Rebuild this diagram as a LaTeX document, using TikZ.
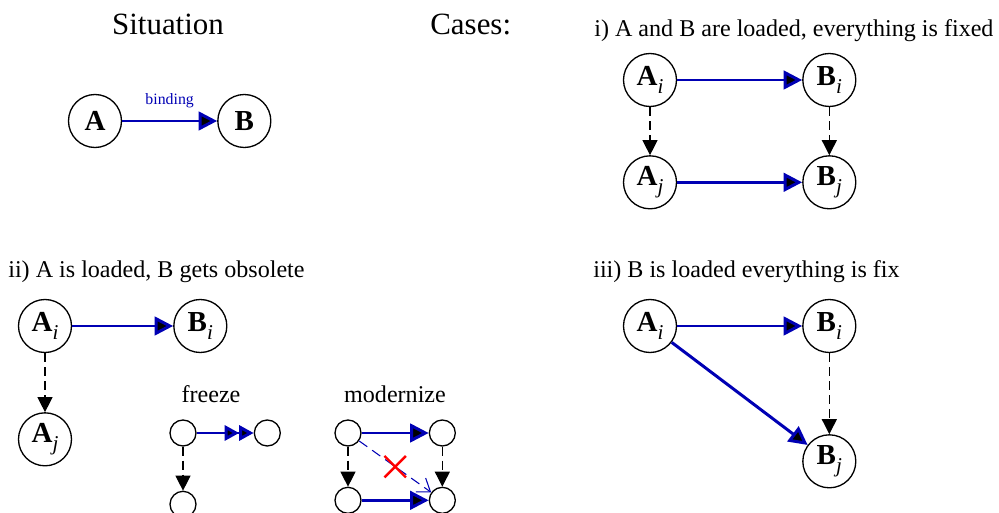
\documentclass[tikz,border=0pt]{standalone}
\usepackage{fontspec}
\setmainfont{Liberation Serif}
\usetikzlibrary{arrows.meta}
\usetikzlibrary{shapes.misc}
\usetikzlibrary{positioning}
\definecolor{bindblue}{RGB}{0,0,180}
\tikzset{main node/.style={circle,fill=white,draw,line width=0.75pt,minimum size=1.06cm,inner sep=0pt,font=\fontsize{16.5}{19}\selectfont\bfseries}}
\tikzset{small node/.style={circle,fill=white,draw,line width=0.75pt,minimum size=0.52cm,inner sep=0pt}}
\tikzset{bind/.style={draw=bindblue,line width=1.7pt,-{Triangle[length=0.37cm,width=0.37cm]}}}
\tikzset{dep/.style={draw=black,line width=0.7pt,dash pattern=on 0.18cm off 0.1cm,-{Triangle[length=0.3cm,width=0.3cm]}}}
\tikzset{head text/.style={font=\fontsize{17.6}{20}\selectfont,inner sep=0pt}}
\tikzset{case text/.style={font=\fontsize{13.7}{16}\selectfont,inner sep=0pt,anchor=base west}}
\newcommand{\nodeidx}[1]{\raisebox{-0.3em}{\fontsize{12}{14}\selectfont\mdseries\itshape #1}}

\begin{document}
\begin{tikzpicture}
	\useasboundingbox (0,0) rectangle (19.98,-10.26);
	% headings
	\node[head text,anchor=base] (situation) at (3.36,-0.70) {Situation};
	\node[head text,anchor=base west] (cases) at (8.60,-0.70) {Cases:};
	\node[case text] (case_{1}) at (11.88,-0.74) {i) A and B are loaded, everything is fixed};
	\node[case text] (case_{2}) at (0.16,-5.56) {ii) A is loaded, B gets obsolete};
	\node[case text] (case_{3}) at (11.86,-5.56) {iii) B is loaded everything is fix};
	\node[case text,anchor=base] (freeze) at (4.22,-8.06) {freeze};
	\node[case text,anchor=base] (modern) at (7.90,-8.06) {modernize};

	% situation
	\node[main node] (a) at (1.90,-2.42) {A};
	\node[main node] (b) [right = 1.90cm of a] {B};
	\path[bind]
	(a) edge node[midway,above=3pt,font=\fontsize{9}{10}\selectfont,text=bindblue] {binding} (b);

	% case i
	\node[main node] (a_{1}) at (13.00,-1.60) {A\nodeidx{i}};
	\node[main node] (b_{1}) [right = 2.50cm of a_{1}] {B\nodeidx{i}};
	\node[main node] (a_{2}) [below = 0.96cm of a_{1}] {A\nodeidx{j}};
	\node[main node] (b_{2}) [right = 2.50cm of a_{2}] {B\nodeidx{j}};
	\path[bind]
	(a_{1}) edge (b_{1})
	(a_{2}) edge (b_{2});
	\path[dep]
	(a_{1}) edge (a_{2})
	(b_{1}) edge (b_{2});

	% case ii
	\node[main node] (a_{3}) at (0.90,-6.52) {A\nodeidx{i}};
	\node[main node] (b_{3}) [right = 2.02cm of a_{3}] {B\nodeidx{i}};
	\node[main node] (a_{4}) [below = 1.18cm of a_{3}] {A\nodeidx{j}};
	\path[bind] (a_{3}) edge (b_{3});
	\path[dep] (a_{3}) edge (a_{4});

	% freeze
	\node[small node] (f_{1}) at (3.66,-8.66) {};
	\node[small node] (f_{2}) [right = 1.14cm of f_{1}] {};
	\node[small node] (f_{3}) [below = 0.88cm of f_{1}] {};
	\path[bind,-{Triangle[length=0.29cm,width=0.3cm]Triangle[length=0.29cm,width=0.3cm]}] (f_{1}) edge (f_{2});
	\path[dep] (f_{1}) edge (f_{3});

	% modernize
	\node[small node] (m_{1}) at (6.96,-8.66) {};
	\node[small node] (m_{2}) [right = 1.34cm of m_{1}] {};
	\node[small node] (m_{3}) [below = 0.80cm of m_{1}] {};
	\node[small node] (m_{4}) [right = 1.34cm of m_{3}] {};
	\path[bind]
	(m_{1}) edge (m_{2})
	(m_{3}) edge (m_{4});
	\path[dep]
	(m_{1}) edge (m_{3})
	(m_{2}) edge (m_{4});
	\path[draw=bindblue,line width=0.6pt,dash pattern=on 0.2cm off 0.12cm,-{Straight Barb[length=0.24cm,width=0.34cm]}]
	(m_{1}) edge node[midway,cross out,draw=red,solid,line width=1.4pt,minimum size=0.38cm,inner sep=0pt] (x) {} (m_{4});

	% case iii
	\node[main node] (a_{5}) at (13.00,-6.52) {A\nodeidx{i}};
	\node[main node] (b_{5}) [right = 2.50cm of a_{5}] {B\nodeidx{i}};
	\node[main node] (b_{6}) [below = 1.62cm of b_{5}] {B\nodeidx{j}};
	\path[bind]
	(a_{5}) edge (b_{5})
	(a_{5}) edge (b_{6});
	\path[dep] (b_{5}) edge (b_{6});
\end{tikzpicture}
\end{document}
